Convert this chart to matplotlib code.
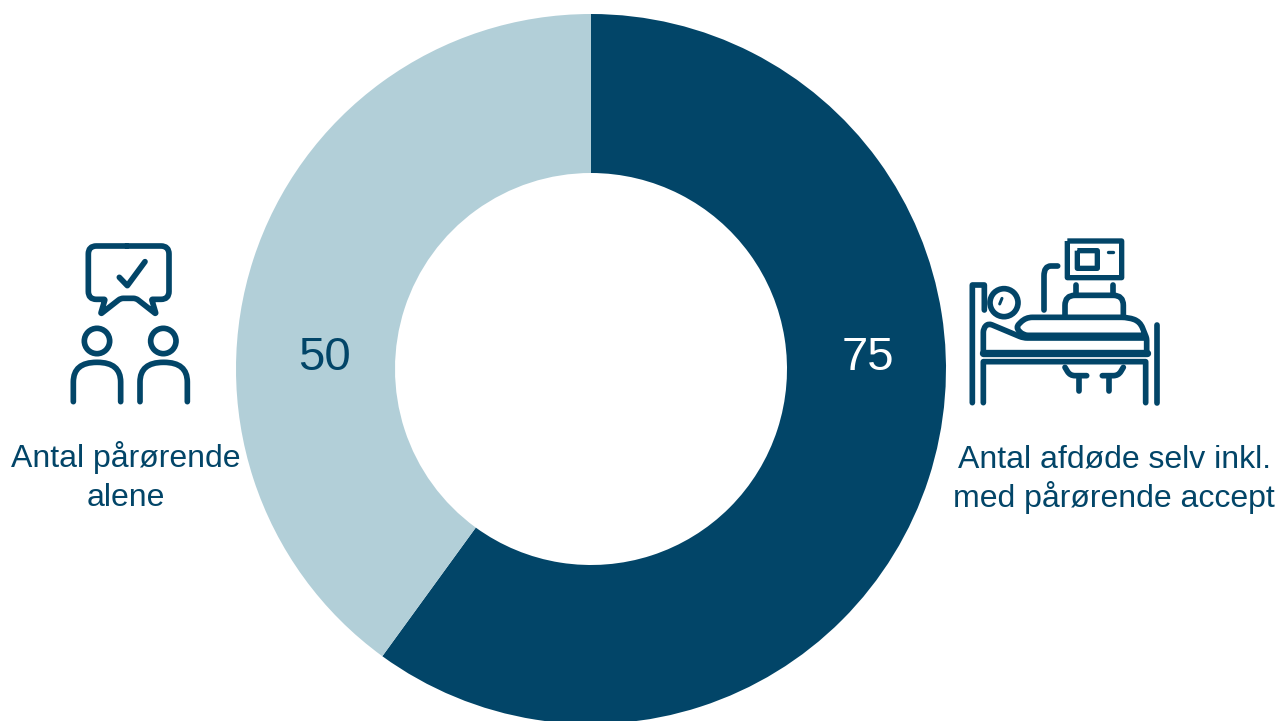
import matplotlib
matplotlib.use("Agg")
import matplotlib.pyplot as plt
from matplotlib.patches import Circle, PathPatch
from matplotlib.path import Path
import numpy as np

W, H = 1283, 721
DARK = "#024568"
LIGHT = "#b2cfd8"

values = [75, 50]
value_labels = ["75", "50"]
label_alene = ["Antal pårørende", "alene"]
label_afdode = ["Antal afdøde selv inkl.", "med pårørende accept"]

plt.rcParams['font.family'] = ['Liberation Sans', 'DejaVu Sans']

fig = plt.figure(figsize=(W / 100, H / 100), dpi=100)
ax = fig.add_axes([0, 0, 1, 1])

ax.pie(values, colors=[DARK, LIGHT], startangle=90, counterclock=False,
       center=(591, H - 369), radius=355, frame=True,
       wedgeprops=dict(width=159, linewidth=0))
ax.set_xlim(0, W)
ax.set_ylim(0, H)
ax.set_aspect('equal')
ax.axis('off')


def rounded(pts, r):
    # polyline with quadratic corners, r is how far the curve starts from the corner
    # (one number, or one per inner point)
    rs = r if isinstance(r, list) else [r] * (len(pts) - 2)
    verts = [pts[0]]
    codes = [Path.MOVETO]
    for i in range(1, len(pts) - 1):
        p = np.array(pts[i], float)
        a = np.array(pts[i - 1], float)
        b = np.array(pts[i + 1], float)
        ra = min(rs[i - 1], np.linalg.norm(a - p) / 2)
        rb = min(rs[i - 1], np.linalg.norm(b - p) / 2)
        s = p + (a - p) / np.linalg.norm(a - p) * ra
        e = p + (b - p) / np.linalg.norm(b - p) * rb
        verts += [tuple(s), tuple(p), tuple(e)]
        codes += [Path.LINETO, Path.CURVE3, Path.CURVE3]
    verts.append(pts[-1])
    codes.append(Path.LINETO)
    return verts, codes


def stroke(pts, org, r=0, lw=17, close=False, cap='round'):
    # icon coordinates are 3x screen pixels from org, y pointing down
    if close:
        pts = list(pts) + [pts[0]]
    verts, codes = rounded(pts, r)
    verts = [(org[0] + x / 3, H - (org[1] + y / 3)) for x, y in verts]
    ax.add_patch(PathPatch(Path(verts, codes), fill=False, edgecolor=DARK,
                           linewidth=lw / 3 * 0.72, capstyle=cap, joinstyle='round'))


def ring(c, rad, org, lw=17):
    ax.add_patch(Circle((org[0] + c[0] / 3, H - (org[1] + c[1] / 3)), rad / 3, fill=False,
                        edgecolor=DARK, linewidth=lw / 3 * 0.72))


# people with speech bubble
o1 = (50, 230)
stroke([(230, 48), (357, 48), (357, 208), (305, 208), (318, 252), (258, 205), (212, 205),
        (152, 252), (165, 208), (115, 208), (115, 48), (230, 48)], o1,
       r=[24, 24, 3, 5, 8, 8, 5, 3, 24, 24])
stroke([(208, 142), (232, 167), (285, 95)], o1)
ring((141, 333), 38, o1)
ring((340, 333), 38, o1)
stroke([(70, 515), (70, 397), (212, 397), (212, 515)], o1, r=70)
stroke([(270, 515), (270, 397), (412, 397), (412, 515)], o1, r=70)

# patient in bed with monitor
o2 = (955, 230)
stroke([(337, 33), (500, 33), (500, 143), (337, 143)], o2, lw=16, close=True, cap='butt')
stroke([(367, 62), (427, 62), (427, 115), (367, 115)], o2, lw=16, close=True, cap='butt')
stroke([(458, 65), (473, 65)], o2, lw=10)
stroke([(267, 240), (267, 108), (308, 108)], o2, r=30)
stroke([(363, 165), (363, 195)], o2)
stroke([(473, 165), (473, 195)], o2)
stroke([(330, 258), (330, 196), (505, 196), (505, 258)], o2, r=30, cap='butt')
ring((147, 218), 42, o2)
stroke([(134, 222), (141, 205)], o2, lw=9)
stroke([(52, 518), (52, 165), (88, 165), (88, 240)], o2)
stroke([(85, 518), (85, 395), (572, 395), (572, 518)], o2)
stroke([(85, 368), (85, 295), (100, 280), (205, 324), (572, 324)], o2, r=[12, 12, 12])
stroke([(85, 368), (575, 368)], o2, lw=22)
stroke([(575, 368), (575, 325), (555, 275), (520, 262), (212, 262), (182, 292), (205, 316), (565, 316)], o2,
       r=[6, 20, 20, 20, 14, 14])
stroke([(605, 285), (605, 518)], o2)
stroke([(330, 412), (345, 437), (395, 437)], o2, r=15)
stroke([(372, 437), (372, 482)], o2)
stroke([(505, 412), (490, 437), (442, 437)], o2, r=15)
stroke([(462, 437), (462, 482)], o2)

ax.text(868, H - 370, value_labels[0], color="white", fontsize=34, ha='center', va='baseline')
ax.text(324, H - 370, value_labels[1], color=DARK, fontsize=34, ha='center', va='baseline')
ax.text(126, H - 467.5, label_alene[0], color=DARK, fontsize=23, ha='center', va='baseline')
ax.text(126, H - 506, label_alene[1], color=DARK, fontsize=23, ha='center', va='baseline')
ax.text(1114, H - 467.5, label_afdode[0], color=DARK, fontsize=23, ha='center', va='baseline')
ax.text(1114, H - 507, label_afdode[1], color=DARK, fontsize=23, ha='center', va='baseline')

fig.savefig("out.png", dpi=100)
